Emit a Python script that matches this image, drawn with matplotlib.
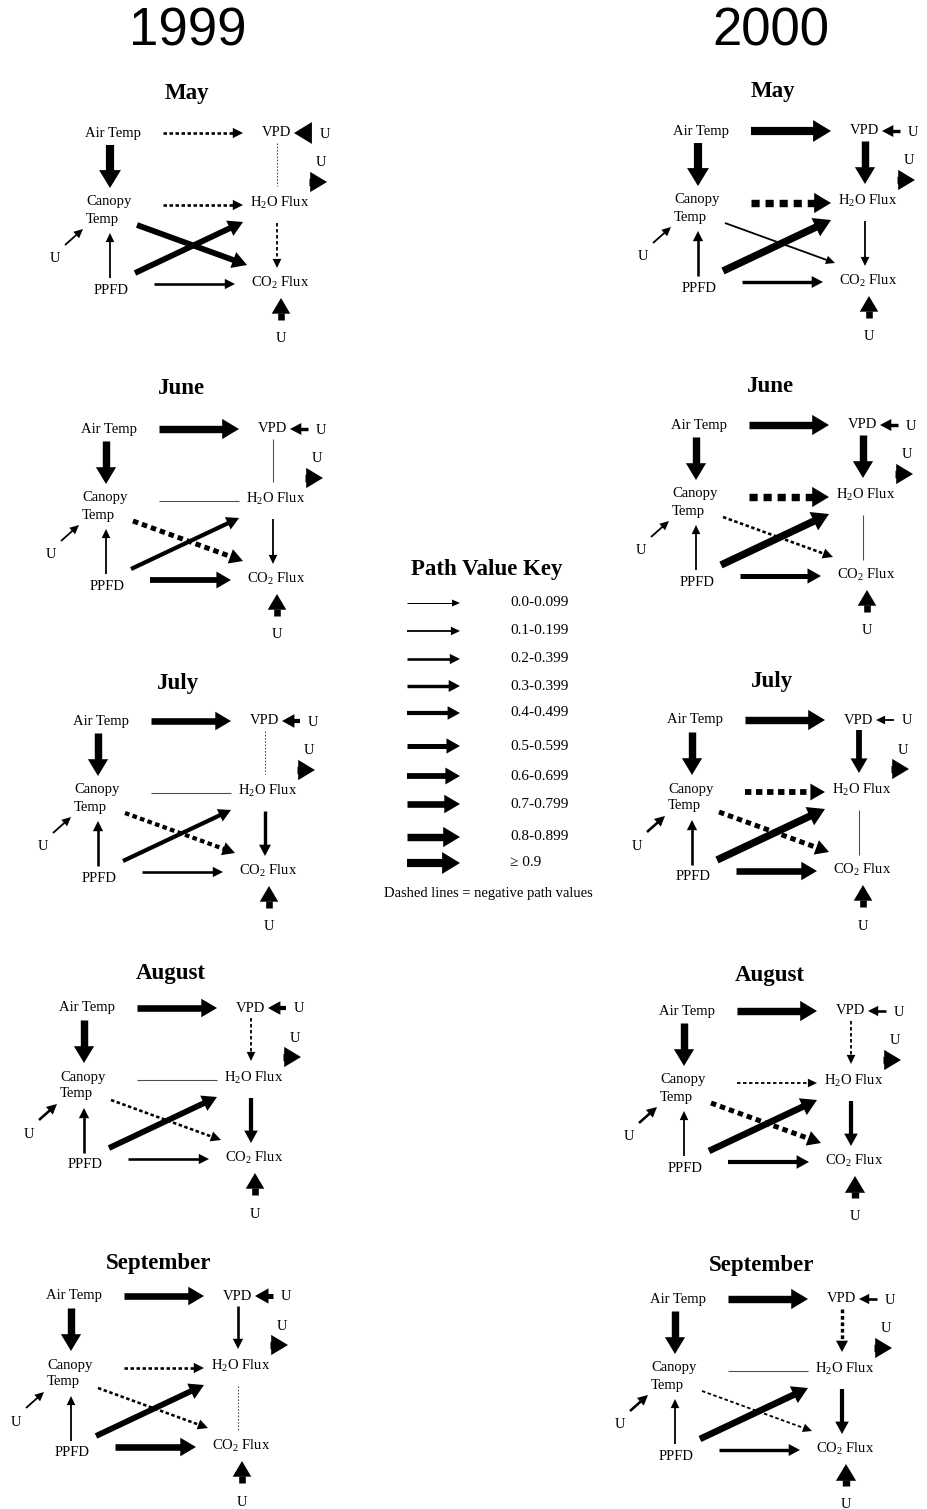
import numpy as np
import matplotlib
matplotlib.use("Agg")
import matplotlib.pyplot as plt
from matplotlib.patches import Polygon

plt.rcParams["mathtext.fontset"] = "custom"
plt.rcParams["mathtext.rm"] = "Liberation Serif"
SERIF = "Liberation Serif"

# ---------------------------------------------------------------- data
years = ["1999", "2000"]
months = ["May", "June", "July", "August", "September"]

# path order
paths = ["AirTemp-VPD", "AirTemp-Canopy", "VPD-H2O", "Canopy-H2O", "Canopy-CO2",
         "PPFD-H2O", "PPFD-Canopy", "PPFD-CO2", "H2O-CO2",
         "U-VPD", "U-H2O", "U-CO2", "U-Canopy"]

# path coefficients (negative = dashed)
may_1999 = [-0.28, 0.92, -0.05, -0.22, 0.65, 0.60, 0.12, 0.25, -0.18, 0.92, 0.88, 0.75, 0.10]
june_1999 = [0.82, 0.85, 0.05, 0.03, -0.55, 0.42, 0.15, 0.65, 0.15, 0.35, 0.85, 0.75, 0.10]
july_1999 = [0.75, 0.85, -0.05, 0.05, -0.42, 0.48, 0.25, 0.25, 0.32, 0.40, 0.85, 0.75, 0.15]
august_1999 = [0.78, 0.85, -0.15, 0.05, -0.25, 0.65, 0.25, 0.25, 0.45, 0.40, 0.85, 0.75, 0.20]
september_1999 = [0.75, 0.85, 0.20, -0.25, -0.20, 0.60, 0.15, 0.70, -0.05, 0.55, 0.85, 0.75, 0.15]

may_2000 = [0.95, 0.90, 0.80, -0.85, 0.12, 0.80, 0.20, 0.30, 0.15, 0.30, 0.85, 0.75, 0.15]
june_2000 = [0.88, 0.85, 0.80, -0.80, -0.20, 0.80, 0.15, 0.50, 0.05, 0.30, 0.80, 0.75, 0.15]
july_2000 = [0.85, 0.85, 0.65, -0.62, -0.55, 0.85, 0.25, 0.70, 0.05, 0.15, 0.80, 0.75, 0.20]
august_2000 = [0.85, 0.85, -0.10, -0.15, -0.55, 0.72, 0.15, 0.40, 0.45, 0.25, 0.85, 0.80, 0.25]
september_2000 = [0.85, 0.85, -0.30, 0.05, -0.15, 0.72, 0.15, 0.35, 0.45, 0.20, 0.85, 0.80, 0.20]

# non-significant paths (drawn as plain lines without heads)
ns_1999 = {"May": [2], "June": [2, 3], "July": [2, 3], "August": [3], "September": [8]}
ns_2000 = {"May": [], "June": [8], "July": [8], "August": [], "September": [3]}

key_labels = ["0.0-0.099", "0.1-0.199", "0.2-0.399", "0.3-0.399", "0.4-0.499",
              "0.5-0.599", "0.6-0.699", "0.7-0.799", "0.8-0.899", "\u2265 0.9"]
key_values = [0.05, 0.15, 0.25, 0.35, 0.45, 0.55, 0.65, 0.75, 0.85, 0.95]

values = {
    "1999": [may_1999, june_1999, july_1999, august_1999, september_1999],
    "2000": [may_2000, june_2000, july_2000, august_2000, september_2000],
}
nonsig = {"1999": ns_1999, "2000": ns_2000}

# ---------------------------------------------------------------- layout
# anchor = centre of the "Air Temp" label, title = centre of month heading
anchors = {
    "1999": [(113, 133), (109, 429), (101, 721), (87, 1008), (74, 1296)],
    "2000": [(701, 131), (699, 425), (695, 720), (687, 1011), (678, 1299)],
}
titles = {
    "1999": [(187, 94), (182, 389), (178, 683), (171, 973), (159, 1263)],
    "2000": [(773, 91), (771, 386), (772, 681), (770, 976), (762, 1266)],
}

# arrow endpoints relative to the anchor, same order as `paths`
geom = [
    ((50, 0), (130, 0)),
    ((-3, 12), (-3, 55)),
    ((164, 10), (164, 53)),
    ((50, 72), (130, 72)),
    ((24, 92), (134, 132)),
    ((22, 140), (130, 89)),
    ((-3, 145), (-3, 100)),
    ((41, 151), (122, 151)),
    ((164, 90), (164, 135)),
    ((199, 0), (181, 0)),
    ((196, 49), (214, 49)),
    ((168, 187), (168, 165)),
    ((-48, 112), (-30, 96)),
]

W, H = 927, 1509
fig = plt.figure(figsize=(W / 100, H / 100), dpi=100)
ax = fig.add_axes([0, 0, 1, 1])
ax.set_xlim(0, W)
ax.set_ylim(H, 0)
ax.axis("off")

PX = 72 / 100  # points per pixel


def draw_path(p0, p1, v, sig=True):
    p0 = np.asarray(p0, float)
    p1 = np.asarray(p1, float)
    d = p1 - p0
    L = np.hypot(*d)
    u = d / L
    n = np.array([-u[1], u[0]])
    if not sig:
        ls = (0, (1.5, 1.5)) if v < 0 else "-"
        ax.plot([p0[0], p1[0]], [p0[1], p1[1]], color="0.3", lw=0.9 * PX * 1.2,
                ls=ls, solid_capstyle="butt", dash_capstyle="butt")
        return
    lvl = min(int(abs(v) * 10), 9)
    w = 1.0 + 0.8 * lvl
    hw = 7 + 1.65 * lvl
    hl = min(8 + 1.1 * lvl, L)
    base = p1 - u * hl
    if L - hl > 0.5:
        end = base + u * 1.0
        if v < 0:
            dash = max(w * 1.1, 3.5)
            gap = max(w * 0.8, 2.5)
            ls = (0, (dash / w, gap / w))
        else:
            ls = "-"
        ax.plot([p0[0], end[0]], [p0[1], end[1]], color="black", lw=w * PX, ls=ls,
                solid_capstyle="butt", dash_capstyle="butt")
    tri = [p1, base + n * hw / 2, base - n * hw / 2]
    ax.add_patch(Polygon(tri, closed=True, fc="black", ec="none"))


def txt(x, y, s, size=10.5, **kw):
    ax.text(x, y, s, fontsize=size, family=SERIF, ha=kw.pop("ha", "center"),
            va=kw.pop("va", "center"), color="black", **kw)


# year headings
ax.text(188, 31, years[0], fontsize=38, family="Liberation Sans", ha="center", va="center")
ax.text(771, 31, years[1], fontsize=38, family="Liberation Sans", ha="center", va="center")

for yr in years:
    for i, m in enumerate(months):
        ax0, ay0 = anchors[yr][i]
        tx, ty = titles[yr][i]
        txt(tx, ty, m, size=16.5, weight="bold")
        txt(ax0, ay0, "Air Temp")
        txt(ax0 + 164, ay0, "VPD")
        txt(ax0 - 27, ay0 + 69, "Canopy", ha="left")
        txt(ax0 - 27, ay0 + 86, "Temp", ha="left")
        txt(ax0 + 167, ay0 + 70, r"H$_\mathrm{2}$O Flux")
        txt(ax0 - 2, ay0 + 157, "PPFD")
        txt(ax0 + 167, ay0 + 150, r"CO$_\mathrm{2}$ Flux")
        txt(ax0 + 212, ay0 + 1, "U")
        txt(ax0 + 208, ay0 + 30, "U")
        txt(ax0 + 168, ay0 + 206, "U")
        txt(ax0 - 58, ay0 + 126, "U")
        vals = values[yr][i]
        for k, v in enumerate(vals):
            (x0, y0), (x1, y1) = geom[k]
            draw_path((ax0 + x0, ay0 + y0), (ax0 + x1, ay0 + y1), v,
                      sig=k not in nonsig[yr][m])

# path value key
txt(487, 570, "Path Value Key", size=16.5, weight="bold")
key_rows = [603, 631, 659, 686, 713, 746, 776, 804, 837, 863]
for lab, v, yk in zip(key_labels, key_values, key_rows):
    draw_path((407, yk), (460, yk), v)
    txt(510, yk, lab, size=11, ha="left")
txt(488, 893, "Dashed lines = negative path values", size=10.5)

fig.savefig("out.png", dpi=100, facecolor="white")
